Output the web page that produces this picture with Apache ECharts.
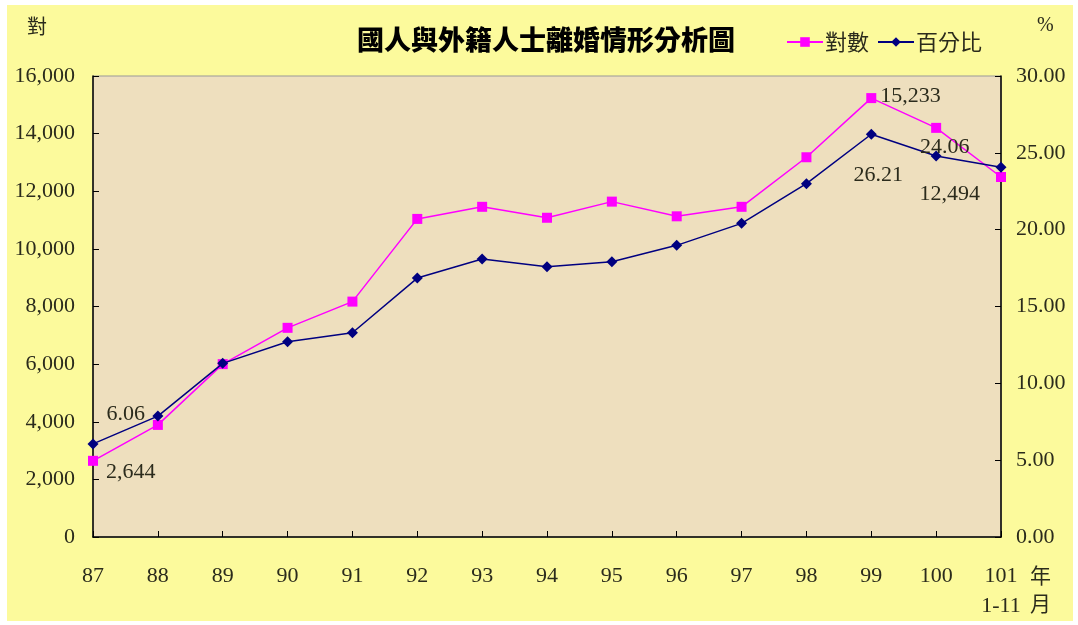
<!DOCTYPE html>
<html>
<head>
<meta charset="utf-8">
<script src="https://cdn.jsdelivr.net/npm/echarts@6/dist/echarts.min.js"></script>
<style>
  html, body { margin: 0; padding: 0; background: #fff; }
  #chart { width: 1078px; height: 625px; }
</style>
</head>
<body>
<div id="chart"></div>
<script>
// 年度 (民國)
const years = ['87', '88', '89', '90', '91', '92', '93', '94', '95', '96', '97', '98', '99', '100', '101\n1-11'];
// 對數
const counts = [2644, 3890, 6000, 7260, 8170, 11040, 11460, 11080, 11640, 11130, 11460, 13180, 15233, 14200, 12494];
// 百分比
const percents = [6.06, 7.87, 11.30, 12.71, 13.29, 16.85, 18.09, 17.59, 17.91, 18.98, 20.41, 22.99, 26.21, 24.79, 24.06];

const leftTicks = {min: 0, max: 16000, interval: 2000};
const rightTicks = {min: 0, max: 30, interval: 5};

const serif = '"Liberation Serif", "Times New Roman", serif';
const cjk = '"Noto Sans CJK TC", "Noto Sans CJK SC", sans-serif';
const textColor = '#2b2b1c';

// which points get a value label, and where it goes
const countLabels = {
    0: {position: 'right', distance: 8, offset: [0, 11]},
    12: {position: 'right', distance: 4, offset: [0, -2]},
    14: {position: 'left', distance: 16, offset: [0, 17]}
};
const pctLabels = {
    0: {position: 'right', distance: 8, offset: [0, -30]},
    12: {position: 'bottom', distance: 5, offset: [7, 19]},
    14: {position: 'left', distance: 26, offset: [0, -20]}
};

function withLabels(values, labels, fmt) {
    return values.map((v, i) => {
        if (!labels[i]) return v;
        return {
            value: v,
            label: Object.assign({
                show: true,
                formatter: fmt,
                fontFamily: serif,
                fontSize: 22,
                color: textColor
            }, labels[i])
        };
    });
}

const chart = echarts.init(document.getElementById('chart'));

chart.setOption({
    backgroundColor: '#ffffff',
    animation: false,
    graphic: [{
        type: 'rect',
        z: -10,
        shape: {x: 7, y: 5, width: 1066, height: 616},
        style: {fill: '#FCFA9C'}
    }],
    title: {
        text: '國人與外籍人士離婚情形分析圖',
        left: 352,
        top: 21,
        textStyle: {fontFamily: cjk, fontSize: 27, fontWeight: 900, color: '#000'}
    },
    legend: {
        left: 781,
        top: 26,
        itemWidth: 36,
        itemHeight: 12,
        itemGap: 8,
        textStyle: {fontFamily: cjk, fontSize: 22, color: textColor, padding: [0, 0, 0, -3]},
        data: ['對數', '百分比']
    },
    grid: {
        left: 93,
        right: 77,
        top: 76,
        bottom: 88,
        outerBoundsMode: 'none',
        containLabel: false,
        show: true,
        backgroundColor: '#EEDFBE',
        borderColor: '#999',
        borderWidth: 1
    },
    xAxis: {
        type: 'category',
        data: years,
        boundaryGap: false,
        name: '年\n月',
        nameLocation: 'end',
        nameGap: 29,
        nameMoveOverlap: false,
        nameTextStyle: {
            fontFamily: cjk, fontSize: 21, color: textColor,
            verticalAlign: 'top', lineHeight: 28, padding: [24, 0, 0, 0]
        },
        axisLine: {lineStyle: {color: '#000', width: 1.5}},
        axisTick: {inside: true, length: 6, lineStyle: {color: '#000'}},
        axisLabel: {
            margin: 24,
            fontFamily: serif, fontSize: 22, color: textColor, lineHeight: 30
        },
        splitLine: {show: false}
    },
    yAxis: [{
        type: 'value',
        min: leftTicks.min,
        max: leftTicks.max,
        interval: leftTicks.interval,
        name: '對',
        nameLocation: 'end',
        nameGap: 40,
        nameMoveOverlap: false,
        nameTextStyle: {fontFamily: cjk, fontSize: 20, color: textColor, align: 'right', padding: [0, 46, 0, 0]},
        axisLine: {show: true, lineStyle: {color: '#000', width: 1.5}},
        axisTick: {show: true, inside: true, length: 6, lineStyle: {color: '#000'}},
        axisLabel: {
            margin: 18,
            fontFamily: serif, fontSize: 22, color: textColor,
            formatter: v => v.toLocaleString('en-US')
        },
        splitLine: {show: false}
    }, {
        type: 'value',
        position: 'right',
        min: rightTicks.min,
        max: rightTicks.max,
        interval: rightTicks.interval,
        name: '%',
        nameLocation: 'end',
        nameGap: 40,
        nameMoveOverlap: false,
        nameTextStyle: {fontFamily: serif, fontSize: 20, color: textColor, align: 'left', padding: [0, 0, 0, 36]},
        axisLine: {show: true, lineStyle: {color: '#000', width: 1.5}},
        axisTick: {show: true, inside: true, length: 6, lineStyle: {color: '#000'}},
        axisLabel: {
            margin: 15,
            fontFamily: serif, fontSize: 22, color: textColor,
            formatter: v => v.toFixed(2)
        },
        splitLine: {show: false}
    }],
    series: [{
        name: '對數',
        type: 'line',
        yAxisIndex: 0,
        data: withLabels(counts, countLabels, p => p.value.toLocaleString('en-US')),
        symbol: 'rect',
        symbolSize: 10,
        color: '#FF00FF',
        lineStyle: {color: '#FF00FF', width: 1.5},
        itemStyle: {color: '#FF00FF'},
        z: 2
    }, {
        name: '百分比',
        type: 'line',
        yAxisIndex: 1,
        data: withLabels(percents, pctLabels, p => p.value.toFixed(2)),
        symbol: 'diamond',
        symbolSize: 11,
        color: '#000080',
        lineStyle: {color: '#000080', width: 1.5},
        itemStyle: {color: '#000080'},
        z: 3
    }]
});
</script>
</body>
</html>
